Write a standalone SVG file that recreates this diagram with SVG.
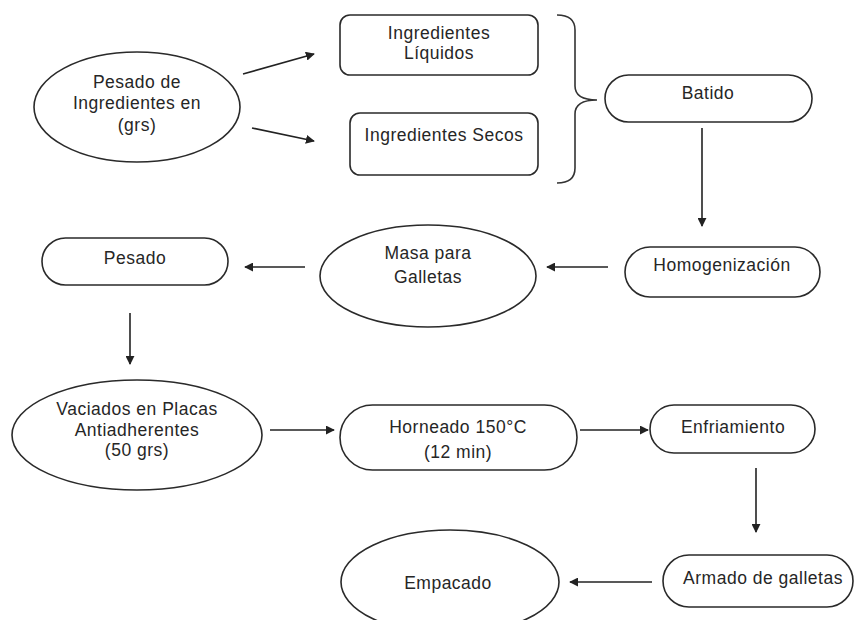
<svg xmlns="http://www.w3.org/2000/svg" width="854" height="620" viewBox="0 0 854 620">
<defs>
<style>
.s{fill:#fff;stroke:#2a2a2a;stroke-width:1.6}
.t{font-family:"Liberation Sans",Arial,sans-serif;font-size:17.5px;letter-spacing:0.5px;fill:#262626;text-anchor:middle}
.c{fill:none;stroke:#222;stroke-width:1.6}
.b{fill:none;stroke:#333;stroke-width:1.6}
</style>
<marker id="ah" viewBox="0 0 10 10" refX="9" refY="5" markerWidth="9" markerHeight="9" markerUnits="userSpaceOnUse" orient="auto">
<path d="M0,0 L10,5 L0,10 z" fill="#222"/>
</marker>
</defs>
<rect width="854" height="620" fill="#fff"/>

<g id="n-pesado-ingredientes">
<ellipse class="s" cx="137" cy="107" rx="103" ry="55"/>
<text class="t" x="137" y="88">Pesado de</text>
<text class="t" x="137" y="109">Ingredientes en</text>
<text class="t" x="137" y="131">(grs)</text>
</g>
<g id="n-liquidos">
<rect class="s" x="340" y="15" width="198" height="60" rx="10"/>
<text class="t" x="439" y="39">Ingredientes</text>
<text class="t" x="439" y="59">Líquidos</text>
</g>
<g id="n-secos">
<rect class="s" x="350" y="113" width="188" height="62" rx="10"/>
<text class="t" x="444" y="141">Ingredientes Secos</text>
</g>
<g id="brace">
<path class="b" d="M557,15 Q575,15 575,30 L575,86 Q575,100 597,100 Q575,100 575,114 L575,168 Q575,183 557,183"/>
</g>
<g id="n-batido">
<rect class="s" x="605" y="75" width="207" height="47" rx="23.5"/>
<text class="t" x="708" y="99">Batido</text>
</g>
<g id="n-homogenizacion">
<rect class="s" x="625" y="247" width="195" height="50" rx="25"/>
<text class="t" x="722" y="271">Homogenización</text>
</g>
<g id="n-masa">
<ellipse class="s" cx="428" cy="276" rx="108" ry="51"/>
<text class="t" x="428" y="259">Masa para</text>
<text class="t" x="428" y="283">Galletas</text>
</g>
<g id="n-pesado">
<rect class="s" x="42" y="238" width="186" height="47" rx="23.5"/>
<text class="t" x="135" y="264">Pesado</text>
</g>
<g id="n-vaciados">
<ellipse class="s" cx="137" cy="435" rx="125" ry="55"/>
<text class="t" x="137" y="415">Vaciados en Placas</text>
<text class="t" x="137" y="436">Antiadherentes</text>
<text class="t" x="137" y="456">(50 grs)</text>
</g>
<g id="n-horneado">
<rect class="s" x="340" y="405" width="237" height="65" rx="32.5"/>
<text class="t" x="458" y="433">Horneado 150°C</text>
<text class="t" x="458" y="458">(12 min)</text>
</g>
<g id="n-enfriamiento">
<rect class="s" x="650" y="405" width="165" height="48" rx="24"/>
<text class="t" x="733" y="433">Enfriamiento</text>
</g>
<g id="n-armado">
<rect class="s" x="663" y="555" width="190" height="52" rx="26"/>
<text class="t" x="763" y="584">Armado de galletas</text>
</g>
<g id="n-empacado">
<ellipse class="s" cx="450" cy="582" rx="109" ry="52"/>
<text class="t" x="448" y="589">Empacado</text>
</g>

<g id="connectors">
<line class="c" x1="243" y1="74" x2="314" y2="54" marker-end="url(#ah)"/>
<line class="c" x1="252" y1="128" x2="314" y2="141" marker-end="url(#ah)"/>
<line class="c" x1="702" y1="128" x2="702" y2="226" marker-end="url(#ah)"/>
<line class="c" x1="608" y1="267" x2="547" y2="267" marker-end="url(#ah)"/>
<line class="c" x1="305" y1="267" x2="245" y2="267" marker-end="url(#ah)"/>
<line class="c" x1="130" y1="313" x2="130" y2="364" marker-end="url(#ah)"/>
<line class="c" x1="270" y1="430" x2="334" y2="430" marker-end="url(#ah)"/>
<line class="c" x1="580" y1="430" x2="648" y2="430" marker-end="url(#ah)"/>
<line class="c" x1="756" y1="468" x2="756" y2="532" marker-end="url(#ah)"/>
<line class="c" x1="652" y1="582" x2="570" y2="582" marker-end="url(#ah)"/>
</g>
</svg>
